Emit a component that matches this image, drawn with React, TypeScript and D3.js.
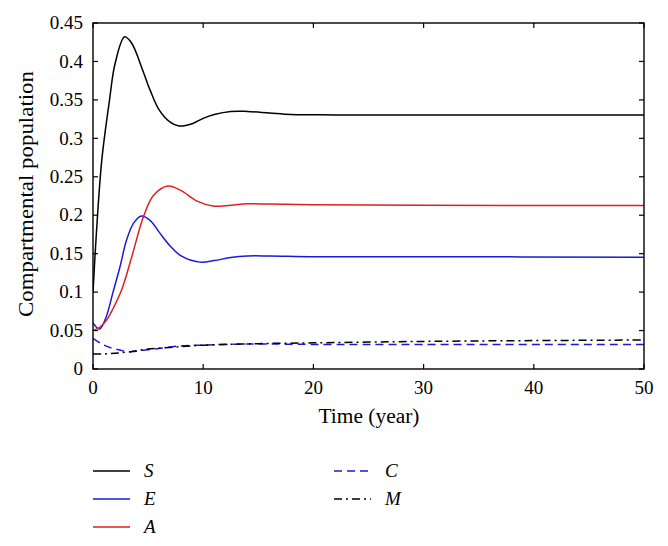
import React from "react";
import * as d3 from "d3";

const xTicks = [0, 10, 20, 30, 40, 50];
const yTicks = [0, 0.05, 0.1, 0.15, 0.2, 0.25, 0.3, 0.35, 0.4, 0.45];
const yTickLabels = ["0", "0.05", "0.1", "0.15", "0.2", "0.25", "0.3", "0.35", "0.4", "0.45"];

const sT = [0, 0.3, 0.8, 1.5, 2.0, 2.87, 3.5, 4.5, 5.2, 6, 7, 7.8, 9, 10, 11, 12.5, 14, 16, 18, 22, 30, 40, 50];
const sV = [0.1, 0.175, 0.272, 0.35, 0.397, 0.432, 0.424, 0.389, 0.362, 0.337, 0.321, 0.316, 0.319, 0.326, 0.331, 0.335, 0.335, 0.333, 0.331, 0.3305, 0.3305, 0.3305, 0.3305];

const eT = [0, 0.6, 1.2, 1.8, 2.45, 3.05, 3.7, 4.4, 5.2, 6, 7, 8, 9.7, 11, 12.5, 14, 16, 20, 30, 50];
const eV = [0.06, 0.052, 0.068, 0.099, 0.133, 0.168, 0.19, 0.199, 0.193, 0.178, 0.16, 0.147, 0.139, 0.141, 0.145, 0.147, 0.147, 0.146, 0.146, 0.1455];

const aT = [0, 0.6, 1.2, 1.8, 2.6, 3.5, 4.6, 5.5, 6.8, 8, 9.5, 10.9, 12.5, 14, 16, 20, 30, 50];
const aV = [0.05, 0.054, 0.063, 0.078, 0.103, 0.145, 0.199, 0.226, 0.238, 0.232, 0.218, 0.212, 0.213, 0.2148, 0.2145, 0.2135, 0.213, 0.2125];

const cT = [0, 1, 2, 3.3, 5, 7.9, 10, 12.4, 15, 20, 30, 50];
const cV = [0.04, 0.031, 0.026, 0.0225, 0.025, 0.03, 0.031, 0.032, 0.0325, 0.032, 0.032, 0.032];

const mT = [0, 1, 2, 3.4, 5, 7, 10, 15, 20, 27.6, 35, 50];
const mV = [0.0195, 0.0195, 0.0205, 0.0225, 0.026, 0.028, 0.031, 0.033, 0.034, 0.0355, 0.0365, 0.0377];

const seriesNames = ["S", "E", "A", "C", "M"];

const W = 668, H = 546;
const L = 93, R = 644, T = 23, B = 369;

export default function App() {
  const x = d3.scaleLinear().domain([0, 50]).range([L, R]);
  const y = d3.scaleLinear().domain([0, 0.45]).range([B, T]);
  const line = d3.line<[number, number]>().x(d => x(d[0])).y(d => y(d[1])).curve(d3.curveCatmullRom.alpha(0.5));
  const zip = (t: number[], v: number[]) => t.map((ti, i) => [ti, v[i]] as [number, number]);

  const series = [
    { name: seriesNames[0], data: zip(sT, sV), color: "#000000", dash: "" },
    { name: seriesNames[1], data: zip(eT, eV), color: "#1a1ad8", dash: "" },
    { name: seriesNames[2], data: zip(aT, aV), color: "#e01f1f", dash: "" },
    { name: seriesNames[3], data: zip(cT, cV), color: "#1a1ad8", dash: "8,5" },
    { name: seriesNames[4], data: zip(mT, mV), color: "#000000", dash: "8,4,2,4" },
  ];

  const legendPos = [
    { x: 93, y: 471 },
    { x: 93, y: 499 },
    { x: 93, y: 527 },
    { x: 334, y: 471 },
    { x: 334, y: 499 },
  ];

  const font = "'Liberation Serif', 'DejaVu Serif', serif";
  const fs = 19;

  return (
    <svg width={W} height={H} style={{ position: "absolute", left: 0, top: 0, background: "#fff", fontFamily: font }}>
      <rect x={0} y={0} width={W} height={H} fill="#fff" />
      <defs>
        <clipPath id="plot">
          <rect x={L} y={T} width={R - L} height={B - T} />
        </clipPath>
      </defs>
      <g clipPath="url(#plot)">
        {series.map(s => (
          <path key={s.name} d={line(s.data) || ""} fill="none" stroke={s.color} strokeWidth={1.5} strokeDasharray={s.dash || undefined} />
        ))}
      </g>
      <rect x={L} y={T} width={R - L} height={B - T} fill="none" stroke="#000" strokeWidth={1.4} />
      {xTicks.map(t => (
        <g key={"x" + t}>
          <line x1={x(t)} x2={x(t)} y1={B} y2={B - 5} stroke="#000" strokeWidth={1.2} />
          <line x1={x(t)} x2={x(t)} y1={T} y2={T + 5} stroke="#000" strokeWidth={1.2} />
          <text x={x(t)} y={394} fontSize={fs} textAnchor="middle" style={{ fontFamily: font }}>{t}</text>
        </g>
      ))}
      {yTicks.map((t, i) => (
        <g key={"y" + t}>
          <line x1={L} x2={L + 5} y1={y(t)} y2={y(t)} stroke="#000" strokeWidth={1.2} />
          <line x1={R} x2={R - 5} y1={y(t)} y2={y(t)} stroke="#000" strokeWidth={1.2} />
          <text x={83} y={y(t)} dy="0.33em" fontSize={fs} textAnchor="end" style={{ fontFamily: font }}>{yTickLabels[i]}</text>
        </g>
      ))}
      <text x={369} y={423} fontSize={20} textAnchor="middle" textLength={101} lengthAdjust="spacingAndGlyphs" style={{ fontFamily: font }}>Time (year)</text>
      <text transform={`translate(33,194) rotate(-90)`} fontSize={20} textAnchor="middle" textLength={246} lengthAdjust="spacingAndGlyphs" style={{ fontFamily: font }}>Compartmental population</text>
      {series.map((s, i) => (
        <g key={"lg" + s.name}>
          <line x1={legendPos[i].x} x2={legendPos[i].x + 37} y1={legendPos[i].y} y2={legendPos[i].y} stroke={s.color} strokeWidth={1.5} strokeDasharray={s.dash || undefined} />
          <text x={legendPos[i].x + 51} y={legendPos[i].y} dy="0.33em" fontSize={fs} fontStyle="italic" style={{ fontFamily: font }}>{s.name}</text>
        </g>
      ))}
    </svg>
  );
}
